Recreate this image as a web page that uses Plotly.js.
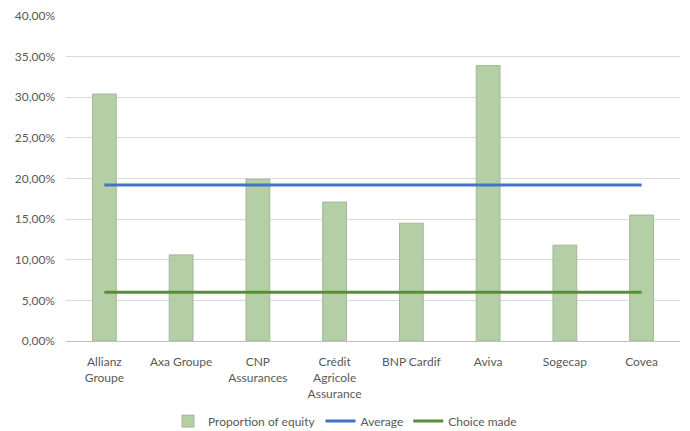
<!DOCTYPE html>
<html>
<head>
<meta charset="utf-8">
<script src="https://cdn.plot.ly/plotly-3.0.1.min.js"></script>
<style>html,body{margin:0;padding:0;background:#fff;}#chart{width:690px;height:431px;}</style>
</head>
<body>
<div id="chart"></div>
<script>
const categories = ["Allianz<br>Groupe", "Axa Groupe", "CNP<br>Assurances", "Crédit<br>Agricole<br>Assurance", "BNP Cardif", "Aviva", "Sogecap", "Covea"];
const proportionOfEquity = [0.304, 0.106, 0.199, 0.171, 0.145, 0.339, 0.118, 0.155];
const averageValues = [0.192, 0.192, 0.192, 0.192, 0.192, 0.192, 0.192, 0.192];
const choiceMadeValues = [0.060, 0.060, 0.060, 0.060, 0.060, 0.060, 0.060, 0.060];
const yTickVals = [0, 0.05, 0.10, 0.15, 0.20, 0.25, 0.30, 0.35, 0.40];
const yTickText = ["0,00%", "5,00%", "10,00%", "15,00%", "20,00%", "25,00%", "30,00%", "35,00%", "40,00%"];

const font = {family: "Lato, Open Sans, sans-serif", size: 12, color: "#595959"};

const traces = [
  {type: "bar", name: "Proportion of equity", x: categories, y: proportionOfEquity,
   marker: {color: "#b4cea6", line: {color: "#a3b898", width: 1}}, hoverinfo: "skip"},
  {type: "scatter", mode: "lines", name: "Average", x: categories, y: averageValues,
   line: {color: "#4472c4", width: 3}, hoverinfo: "skip"},
  {type: "scatter", mode: "lines", name: "Choice made", x: categories, y: choiceMadeValues,
   line: {color: "#5b8c3a", width: 3}, hoverinfo: "skip"}
];

const layout = {
  width: 690, height: 431,
  margin: {l: 66, r: 10, t: 16, b: 90},
  paper_bgcolor: "#ffffff", plot_bgcolor: "#ffffff",
  font: font,
  bargap: 0.69,
  showlegend: true,
  legend: {orientation: "h", x: 0.5, xref: "container", xanchor: "center", y: 0.023, yref: "container", yanchor: "middle", font: font, traceorder: "normal", itemwidth: 30},
  xaxis: {type: "category", tickfont: font, showgrid: false, showline: true, linecolor: "#bfbfbf", linewidth: 1, ticks: "", fixedrange: true, tickangle: 0, automargin: false, ticklabelstandoff: 10},
  yaxis: {range: [0, 0.40], tickvals: yTickVals, ticktext: yTickText, tickfont: font, showgrid: true, gridcolor: "#d9d9d9", gridwidth: 1, zeroline: false, showline: false, ticks: "", ticklabelstandoff: 10, fixedrange: true, automargin: false}
};

Plotly.newPlot("chart", traces, layout, {displayModeBar: false, staticPlot: true});
</script>
</body>
</html>
